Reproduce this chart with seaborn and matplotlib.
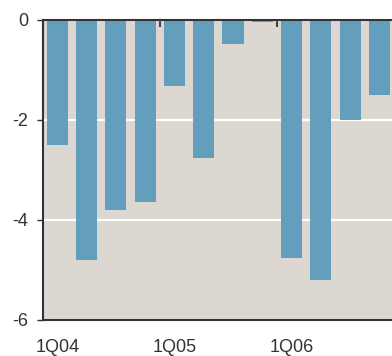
import matplotlib
matplotlib.use('Agg')
import matplotlib.pyplot as plt
import seaborn as sns

# Quarterly values
quarters = ['1Q04', '2Q04', '3Q04', '4Q04',
            '1Q05', '2Q05', '3Q05', '4Q05',
            '1Q06', '2Q06', '3Q06', '4Q06']
values = [-2.5, -4.8, -3.8, -3.63, -1.31, -2.75, -0.48, -0.04,
          -4.75, -5.19, -2.0, -1.5]
label_quarters = ['1Q04', '1Q05', '1Q06']
y_ticks = [0, -2, -4, -6]

sns.set_theme(style='white')
plt.rcParams['font.family'] = ['Liberation Sans', 'DejaVu Sans']
plt.rcParams['axes.unicode_minus'] = False

fig = plt.figure(figsize=(3.92, 3.56), dpi=100)
ax = fig.add_axes([43 / 392, 36 / 356, 349 / 392, 300 / 356])
ax.set_facecolor('#dcd7d1')

sns.barplot(x=quarters, y=values, color='#639ebc', saturation=1,
            width=0.72, edgecolor='none', linewidth=0, ax=ax)

ax.set_ylim(-6, 0)
ax.set_xlim(-0.49, 11.43)
ax.set_yticks(y_ticks)
ax.set_yticklabels([str(t) for t in y_ticks])
ax.set_xticks([quarters.index(q) for q in label_quarters])
ax.set_xticklabels(label_quarters)
ax.set_xticks([3.5, 7.5], minor=True)

ax.set_axisbelow(True)
ax.yaxis.grid(True, color='white', linewidth=1.6)
ax.xaxis.grid(False)

for side in ['left', 'top', 'bottom']:
    ax.spines[side].set_color('#333333')
    ax.spines[side].set_linewidth(1.5)
ax.spines['right'].set_visible(False)

ax.tick_params(axis='y', left=True, length=4.5, width=1, color='#333333',
               pad=6, labelsize=13, labelcolor='#333333')
ax.tick_params(axis='x', which='major', bottom=False, length=0, pad=14,
               labelsize=13, labelcolor='#333333')
ax.tick_params(axis='x', which='minor', top=True, bottom=False,
               direction='in', length=5, width=1.5, color='#444444')
ax.set_xlabel('')
ax.set_ylabel('')

fig.savefig('out.png', dpi=100)
